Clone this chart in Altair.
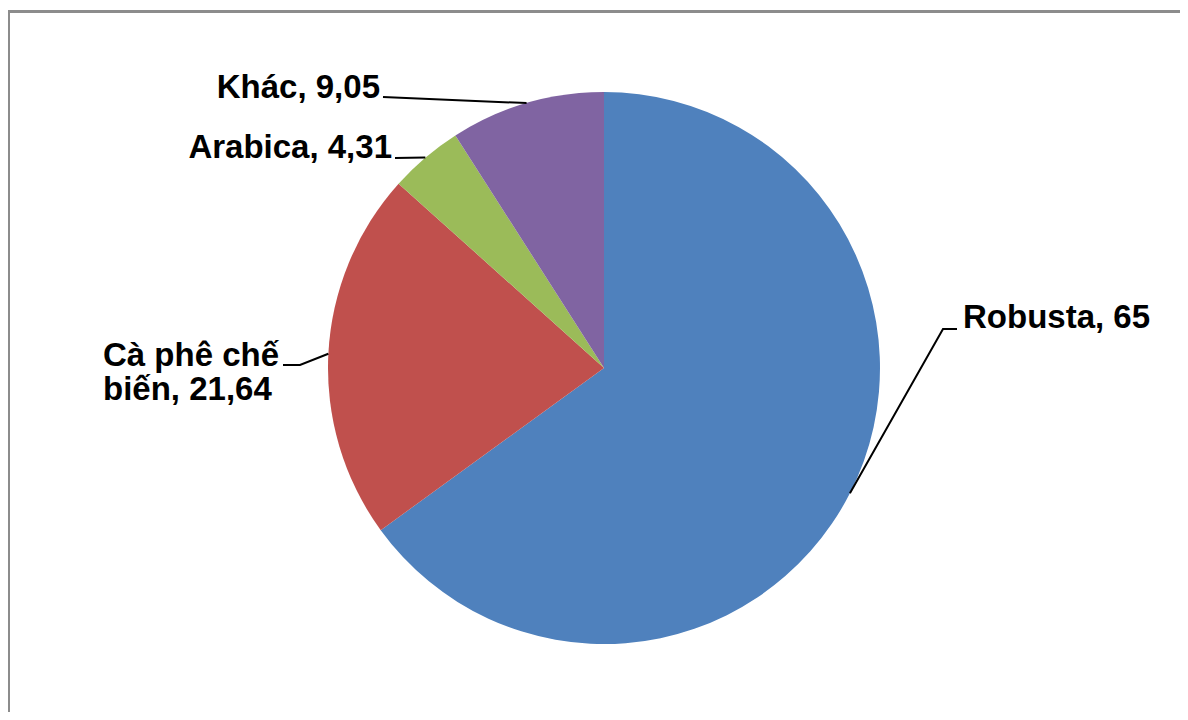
import math
import altair as alt
import pandas as pd

# ---- data ----
categories = ["Robusta", "Cà phê chế biến", "Arabica", "Khác"]
values = [65, 21.64, 4.31, 9.05]
colors = ["#4F81BD", "#C0504D", "#9BBB59", "#8064A2"]

# ---- layout / style ----
W, H = 1172, 704
CX, CY, R = 596, 360, 276
FONT = "Liberation Sans"
FS = 33

# labels were dragged in the original: anchor of each label and leader path
LABEL_LAYOUT = {
    "Robusta": dict(tx=955, ty=320, align="left", wrap_after=None, path=[(935, 321), (949, 321)]),
    "Cà phê chế biến": dict(tx=95, ty=358, align="left", wrap_after=3, path=[(292, 357), (275, 357)]),
    "Arabica": dict(tx=384, ty=150, align="right", wrap_after=None, path=[(387, 150)]),
    "Khác": dict(tx=372, ty=90, align="right", wrap_after=None, path=[(375, 89)]),
}


def fmt(v):
    return f"{v:g}".replace(".", ",")


pie_df = pd.DataFrame({"category": categories, "value": values, "idx": range(len(categories))})

total = sum(values)
line_rows, text_rows = [], []
cum = 0.0
for cat, v in zip(categories, values):
    mid = (cum + v / 2) / total * 2 * math.pi
    cum += v
    lay = LABEL_LAYOUT[cat]
    sx = CX + R * math.sin(mid)
    sy = CY - R * math.cos(mid)
    pts = [(sx, sy)] + lay["path"]
    for i, (px, py) in enumerate(pts):
        line_rows.append({"category": cat, "pt": i, "x": px, "y": py})
    label = f"{cat}, {fmt(v)}"
    if lay["wrap_after"]:
        words = label.split(" ")
        label = " ".join(words[: lay["wrap_after"]]) + "\n" + " ".join(words[lay["wrap_after"]:])
    text_rows.append({"category": cat, "label": label, "x": lay["tx"], "y": lay["ty"], "align": lay["align"]})

line_df = pd.DataFrame(line_rows)
text_df = pd.DataFrame(text_rows)

pie = alt.Chart(pie_df).mark_arc(outerRadius=R).encode(
    theta=alt.Theta("value:Q", stack=True),
    color=alt.Color("category:N", scale=alt.Scale(domain=categories, range=colors), legend=None),
    order=alt.Order("idx:Q"),
    x=alt.value(CX),
    y=alt.value(CY),
)

leaders = alt.Chart(line_df).mark_line(color="black", strokeWidth=2).encode(
    x=alt.X("x:Q", scale=None, axis=None),
    y=alt.Y("y:Q", scale=None, axis=None),
    detail="category:N",
    order="pt:Q",
)


def text_layer(align):
    return alt.Chart(text_df).transform_filter(alt.datum.align == align).mark_text(
        align=align, baseline="alphabetic", font=FONT, fontSize=FS, fontWeight="bold",
        lineBreak="\n", lineHeight=34, color="black",
    ).encode(
        x=alt.X("x:Q", scale=None, axis=None),
        y=alt.Y("y:Q", scale=None, axis=None),
        text="label:N",
    )


frame_df = pd.DataFrame({"a": [0]})
frame_v = alt.Chart(frame_df).mark_rule(color="#8c8c8c", strokeWidth=3).encode(
    x=alt.value(0.5), y=alt.value(2), y2=alt.value(H + 20)
)
frame_h = alt.Chart(frame_df).mark_rule(color="#8c8c8c", strokeWidth=3).encode(
    x=alt.value(-1), x2=alt.value(W + 20), y=alt.value(3.5)
)

chart = alt.layer(pie, leaders, text_layer("left"), text_layer("right"), frame_v, frame_h).properties(
    width=W, height=H, padding=0, autosize=alt.AutoSizeParams(type="none"), background="white"
).configure_view(stroke=None)

chart.save("out.html", embed_options={"renderer": "svg", "actions": False})
